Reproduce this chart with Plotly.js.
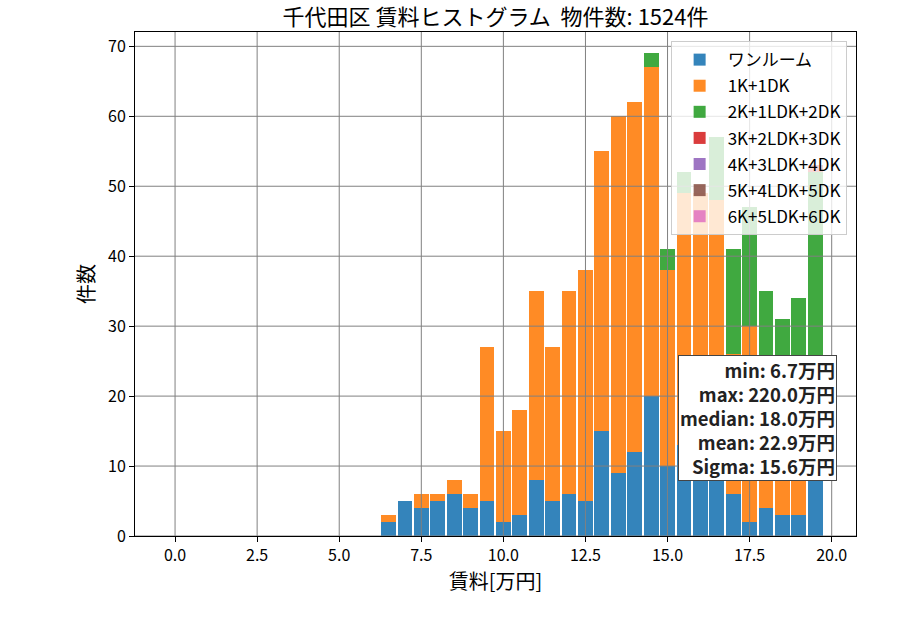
<!DOCTYPE html>
<html>
<head>
<meta charset="utf-8">
<script src="https://cdn.plot.ly/plotly-3.0.1.min.js"></script>
<style>
  body { margin: 0; background: #fff; }
  #chart { width: 900px; height: 630px; }
</style>
</head>
<body>
<div id="chart"></div>
<script>
// bin centres [万円]
var binCenters = [6.5, 7.0, 7.5, 8.0, 8.5, 9.0, 9.5, 10.0, 10.5, 11.0, 11.5, 12.0, 12.5, 13.0,
                  13.5, 14.0, 14.5, 15.0, 15.5, 16.0, 16.5, 17.0, 17.5, 18.0, 18.5, 19.0, 19.5];

// counts per layout type (stacked)
var oneRoom = [2, 5, 4, 5, 6, 4, 5, 2, 3, 8, 5, 6, 5, 15, 9, 12, 20, 10, 13, 10, 12, 6, 2, 4, 3, 3, 9];
var k1dk    = [1, 0, 2, 1, 2, 2, 22, 13, 15, 27, 22, 29, 33, 40, 51, 50, 47, 28, 36, 39, 36, 20, 28, 16, 14, 18, 13];
var k2ldk   = [0, 0, 0, 0, 0, 0, 0, 0, 0, 0, 0, 0, 0, 0, 0, 0, 2, 3, 3, 0, 9, 15, 17, 15, 14, 13, 30];
var k3ldk   = [0, 0, 0, 0, 0, 0, 0, 0, 0, 0, 0, 0, 0, 0, 0, 0, 0, 0, 0, 0, 0, 0, 0, 0, 0, 0, 1];
var k4ldk   = [0, 0, 0, 0, 0, 0, 0, 0, 0, 0, 0, 0, 0, 0, 0, 0, 0, 0, 0, 0, 0, 0, 0, 0, 0, 0, 0];
var k5ldk   = [0, 0, 0, 0, 0, 0, 0, 0, 0, 0, 0, 0, 0, 0, 0, 0, 0, 0, 0, 0, 0, 0, 0, 0, 0, 0, 0];
var k6ldk   = [0, 0, 0, 0, 0, 0, 0, 0, 0, 0, 0, 0, 0, 0, 0, 0, 0, 0, 0, 0, 0, 0, 0, 0, 0, 0, 0];

var seriesNames = ['ワンルーム', '1K+1DK', '2K+1LDK+2DK', '3K+2LDK+3DK', '4K+3LDK+4DK', '5K+4LDK+5DK', '6K+5LDK+6DK'];
var seriesColors = ['#1f77b4', '#ff7f0e', '#2ca02c', '#d62728', '#9467bd', '#8c564b', '#e377c2'];

var statLines = ['min: 6.7万円', 'max: 220.0万円', 'median: 18.0万円', 'mean: 22.9万円', 'Sigma: 15.6万円'];

var xTicks = [0, 2.5, 5, 7.5, 10, 12.5, 15, 17.5, 20];
var yTicks = [0, 10, 20, 30, 40, 50, 60, 70];

var FONT = '"Noto Sans CJK JP", "Noto Sans", sans-serif';

var allSeries = [oneRoom, k1dk, k2ldk, k3ldk, k4ldk, k5ldk, k6ldk];
var traces = allSeries.map(function (vals, i) {
    return {
        type: 'bar',
        x: binCenters,
        y: vals,
        width: 0.45,
        name: seriesNames[i],
        legendgroup: 'g' + i,
        opacity: 0.9,
        marker: {color: seriesColors[i], line: {width: 0}},
        hoverinfo: 'x+y+name'
    };
});

// grid drawn above the bars, like matplotlib's grid here
var gridShapes = [];
xTicks.forEach(function (t) {
    gridShapes.push({type: 'line', layer: 'above', xref: 'x', yref: 'paper', x0: t, x1: t, y0: 0, y1: 1,
                     line: {color: '#808080', width: 1}});
});
yTicks.forEach(function (t) {
    gridShapes.push({type: 'line', layer: 'above', xref: 'paper', yref: 'y', x0: 0, x1: 1, y0: t, y1: t,
                     line: {color: '#808080', width: 1}});
});

var layout = {
    width: 900, height: 630,
    margin: {l: 135, r: 44, t: 32, b: 94},
    paper_bgcolor: '#fff', plot_bgcolor: '#fff',
    font: {family: FONT, size: 16, color: '#000'},
    barmode: 'stack',
    bargap: 0,
    title: {text: '千代田区 賃料ヒストグラム  物件数: 1524件', font: {size: 22, family: FONT},
            x: 0.5, xref: 'paper', xanchor: 'center', y: 0.973, yref: 'container', yanchor: 'middle'},
    xaxis: {
        range: [-1.22, 20.74],
        tickvals: xTicks, tickformat: '.1f',
        showgrid: false, zeroline: false,
        showline: true, mirror: true, linecolor: '#000', linewidth: 1,
        ticks: 'outside', ticklen: 5, tickcolor: '#000',
        tickfont: {size: 16},
        title: {text: '賃料[万円]', font: {size: 20}, standoff: 6}
    },
    yaxis: {
        range: [0, 72.05],
        tickvals: yTicks,
        showgrid: false, zeroline: false,
        showline: true, mirror: true, linecolor: '#000', linewidth: 1,
        ticks: 'outside', ticklen: 5, tickcolor: '#000',
        tickfont: {size: 16},
        title: {text: '件数', font: {size: 20}, standoff: 8}
    },
    legend: {
        x: 0.987, y: 0.982, xanchor: 'right', yanchor: 'top',
        bgcolor: 'rgba(255,255,255,0.8)', bordercolor: '#cccccc', borderwidth: 1,
        font: {size: 17}, traceorder: 'grouped', tracegroupgap: 1, itemwidth: 46
    },
    shapes: gridShapes,
    annotations: [{
        xref: 'paper', yref: 'paper', x: 0.974, y: 0.11, xanchor: 'right', yanchor: 'bottom',
        text: '<b>' + statLines.join('<br>') + '</b>',
        align: 'right', showarrow: false,
        font: {size: 18.5, color: '#222', family: FONT},
        bgcolor: '#fff', bordercolor: '#444', borderwidth: 1, borderpad: 1
    }]
};

Plotly.newPlot('chart', traces, layout, {displayModeBar: false, staticPlot: true});
</script>
</body>
</html>
